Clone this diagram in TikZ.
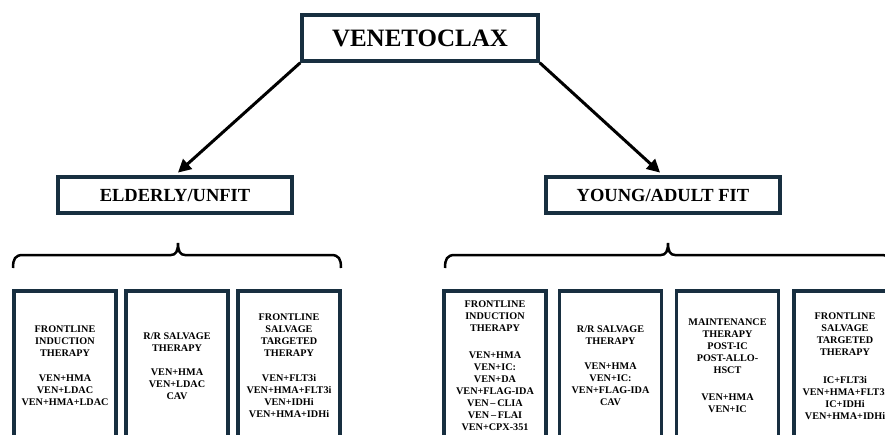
\documentclass[tikz,border=0pt]{standalone}
\usepackage{fontspec}
\setmainfont{Liberation Serif}
\usepackage{xcolor}
\usetikzlibrary{arrows.meta}
\definecolor{boxnavy}{RGB}{24,47,64}
\tikzset{
  topbox/.style={draw=boxnavy,line width=3.5pt,fill=white,inner sep=0pt,
    minimum width=236pt,minimum height=46pt,font=\bfseries\fontsize{25}{28}\selectfont},
  grpbox/.style={draw=boxnavy,line width=3.5pt,fill=white,inner sep=0pt,
    minimum width=234pt,minimum height=36pt,font=\bfseries\fontsize{18.5}{21}\selectfont},
  therbox/.style={draw=boxnavy,line width=3.5pt,fill=white,inner sep=0pt,align=center,
    minimum width=102pt,minimum height=150pt,font=\bfseries\fontsize{10.2}{12}\selectfont},
  arr/.style={-{Triangle[length=13pt,width=13pt]},line width=3pt,black,shorten >=4pt},
  brc/.style={line width=2.5pt,black},
}

\begin{document}
\begin{tikzpicture}[x=1pt,y=-1pt]
  \useasboundingbox (0,0) rectangle (885,434);
  \clip (0,0) rectangle (885,434);
  % --- top levels ---
  \node[topbox] (ven) at (420,38) {VENETOCLAX};
  \node[grpbox] (eld) at (175,195) {ELDERLY/UNFIT};
  \node[grpbox] (yng) at (663,195) {YOUNG/ADULT FIT};
  \draw[arr] (ven.south west) -- (eld.north);
  \draw[arr] (ven.south east) -- (yng.north);
  % --- braces: left x, middle x, right x ---
  \foreach \bl/\bm/\br in {13/178/341, 445/668/891}{
    \draw[brc] (\bl,268) .. controls (\bl,259) and (\bl+2,255) .. (\bl+10,255)
      -- (\bm-7,255) .. controls (\bm-2,255) and (\bm,251) .. (\bm,243)
      .. controls (\bm,251) and (\bm+2,255) .. (\bm+7,255)
      -- (\br-10,255) .. controls (\br-2,255) and (\br,259) .. (\br,268);
  }
  % elderly/unfit
  \node[therbox] (e1) at (65,366) {FRONTLINE\\INDUCTION\\THERAPY\\[13pt]VEN+HMA\\VEN+LDAC\\VEN+HMA+LDAC};
  \node[therbox] (e2) at (177,366) {R/R SALVAGE\\THERAPY\\[12pt]VEN+HMA\\VEN+LDAC\\CAV};
  \node[therbox] (e3) at (289,366) {FRONTLINE\\SALVAGE\\TARGETED\\THERAPY\\[13pt]VEN+FLT3i\\VEN+HMA+FLT3i\\VEN+IDHi\\VEN+HMA+IDHi};
  % young/adult fit
  \node[therbox] (y1) at (495,366) {FRONTLINE\\INDUCTION\\THERAPY\\[15pt]VEN+HMA\\VEN+IC:\\VEN+DA\\VEN+FLAG-IDA\\VEN\,--\,CLIA\\VEN\,--\,FLAI\\VEN+CPX-351};
  \node[therbox] (y2) at (610.5,366) {R/R SALVAGE\\THERAPY\\[13pt]VEN+HMA\\VEN+IC:\\VEN+FLAG-IDA\\CAV};
  \node[therbox] (y3) at (727.5,366) {MAINTENANCE\\THERAPY\\POST-IC\\POST-ALLO-\\HSCT\\[15pt]VEN+HMA\\VEN+IC};
  \node[therbox] (y4) at (845,366) {FRONTLINE\\SALVAGE\\TARGETED\\THERAPY\\[16pt]IC+FLT3i\\VEN+HMA+FLT3i\\IC+IDHi\\VEN+HMA+IDHi};
\end{tikzpicture}
\end{document}
